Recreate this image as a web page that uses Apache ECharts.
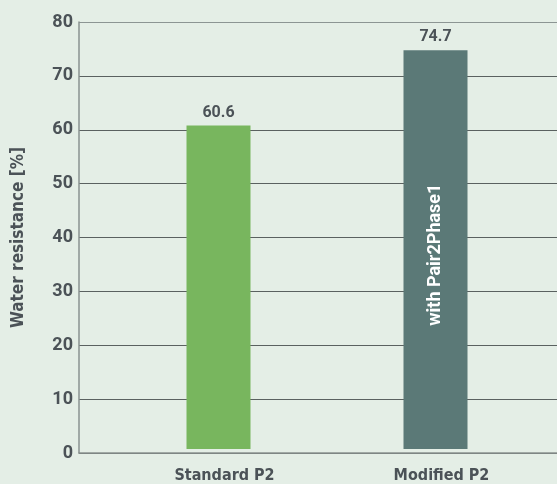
<!DOCTYPE html>
<html>
<head>
<meta charset="utf-8">
<script src="https://cdn.jsdelivr.net/npm/echarts@6/dist/echarts.min.js"></script>
<style>
html,body{margin:0;padding:0;background:#e4eee6;}
#chart{width:557px;height:484px;}
</style>
</head>
<body>
<div id="chart"></div>
<script>
const categories = ['Standard P2', 'Modified P2'];
const values = [60.6, 74.7];
const barColors = ['#78b65e', '#5b7977'];
const insideLabels = ['', 'with Pair2Phase1'];
const yTicks = [0, 10, 20, 30, 40, 50, 60, 70, 80];

const textColor = '#4b5257';
const condFont = '"DejaVu Sans Condensed", "DejaVu Sans", sans-serif';
const chart = echarts.init(document.getElementById('chart'), null, {renderer: 'canvas'});
const splitColors = yTicks.map((t, i) => i === yTicks.length - 1 ? '#8c9593' : '#5a6160');
const option = {
  backgroundColor: '#e4eee6',
  animation: false,
  grid: [
    {left: 79, right: 0, top: 22, bottom: 31, containLabel: false},
    {left: 110, width: 434, top: 22, bottom: 31, containLabel: false}
  ],
  xAxis: [
    {gridIndex: 0, type: 'category', data: categories, show: true, z: 3,
     axisLine: {show: true, lineStyle: {color: '#8a9290', width: 1.5}},
     axisTick: {show: false}, axisLabel: {show: false}},
    {gridIndex: 1, type: 'category', data: categories,
     axisLine: {show: false}, axisTick: {show: false},
     axisLabel: {color: textColor, fontFamily: condFont, fontWeight: 'bold', fontSize: 16, margin: 19,
                 padding: [0, 0, 0, 12]}}
  ],
  yAxis: [
    {gridIndex: 0, type: 'value', min: yTicks[0], max: yTicks[yTicks.length - 1], interval: 10,
     name: 'Water resistance [%]', nameLocation: 'middle', nameGap: 52,
     nameTextStyle: {color: textColor, fontFamily: condFont, fontWeight: 'bold', fontSize: 17},
     axisLine: {show: true, lineStyle: {color: '#8a9290', width: 1.5}},
     axisTick: {show: false},
     axisLabel: {color: textColor, fontFamily: 'Roboto', fontWeight: 'bold', fontSize: 18, margin: 6},
     splitLine: {show: true, lineStyle: {color: splitColors, width: 1.2}}},
    {gridIndex: 1, type: 'value', min: yTicks[0], max: yTicks[yTicks.length - 1], interval: 10, show: false,
     splitLine: {show: false}}
  ],
  series: [
    {type: 'bar', xAxisIndex: 1, yAxisIndex: 1, barWidth: 64,
     data: values.map((v, i) => ({value: v, itemStyle: {color: barColors[i]}})),
     label: {show: true, position: 'top', distance: 5, color: textColor,
             fontFamily: 'Roboto', fontWeight: 'bold', fontSize: 16,
             formatter: p => p.value.toFixed(1)}},
    {type: 'bar', xAxisIndex: 1, yAxisIndex: 1, barWidth: 64, barGap: '-100%',
     data: values.map((v, i) => insideLabels[i] ? {value: v, label: {formatter: insideLabels[i]}} : '-'),
     itemStyle: {color: 'rgba(0,0,0,0)'},
     label: {show: true, position: 'inside', rotate: 90, color: '#ffffff',
             fontFamily: 'Roboto', fontWeight: 'bold', fontSize: 18, offset: [-5, 0]}}
  ]
};
chart.setOption(option);
</script>
</body>
</html>
